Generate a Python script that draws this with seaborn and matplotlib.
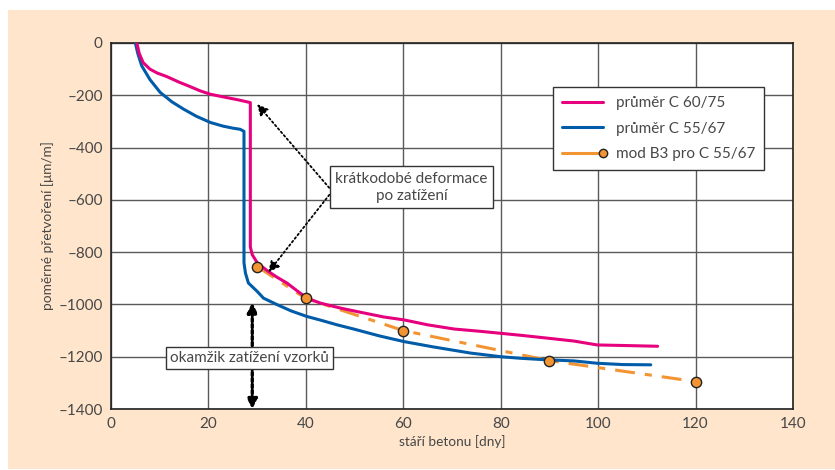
import matplotlib
matplotlib.use("Agg")
import matplotlib.pyplot as plt
from matplotlib.lines import Line2D
from matplotlib.patches import Rectangle
import seaborn as sns
import pandas as pd

c60_days = [5.3, 5.8, 6.6, 8.0, 9.5, 11.4, 14.0, 16.0, 18.3, 20.4, 23.0, 26.0, 28.6,
            28.6, 29.0, 30.0, 32.0, 34.0, 36.1, 38.0, 40.2, 43.0, 47.1, 52.0, 56.0,
            60.1, 65.0, 70.4, 75.9, 84.1, 89.6, 95.0, 99.8, 105.0, 112.2]
c60_strain = [0, -40, -75, -100, -115, -128, -150, -165, -183, -196, -206, -217, -228,
              -780, -810, -840, -870, -895, -918, -945, -976, -995, -1014, -1033, -1048,
              -1059, -1078, -1094, -1103, -1118, -1129, -1140, -1155, -1157, -1160]

c55_days = [5.0, 5.5, 6.3, 8.0, 10.1, 12.5, 14.9, 17.5, 20.4, 23.0, 25.1, 26.5, 27.3,
            27.3, 27.6, 28.2, 30.0, 31.3, 34.0, 37.0, 40.2, 43.0, 46.4, 50.0, 55.0,
            60.1, 66.0, 73.8, 80.0, 84.1, 89.6, 95.0, 99.8, 105.0, 110.8]
c55_strain = [0, -40, -87, -140, -189, -225, -253, -280, -304, -318, -326, -330, -338,
              -841, -880, -918, -950, -976, -1000, -1025, -1046, -1060, -1078, -1095, -1120,
              -1142, -1162, -1186, -1200, -1206, -1212, -1216, -1225, -1230, -1231]

# model B3 for C 55/67
b3_days = [30, 40, 60, 90, 120]
b3_strain = [-855, -977, -1100, -1215, -1295]

x_ticks = [0, 20, 40, 60, 80, 100, 120, 140]
y_ticks = [0, -200, -400, -600, -800, -1000, -1200, -1400]
y_tick_labels = ["0", "–200", "–400", "–600", "–800", "–1000", "–1200", "–1400"]

PINK = "#e6007e"
BLUE = "#005ca9"
ORANGE = "#f39433"
BEIGE = "#fee5cb"
TXT = "#474747"

sns.set_style("white")
plt.rcParams["font.family"] = ["Lato", "DejaVu Sans"]

fig = plt.figure(figsize=(8.35, 4.70), dpi=100, facecolor="white")
fig.patches.append(Rectangle((8 / 835, 1 / 470), 1 - 8 / 835, 459 / 470,
                             transform=fig.transFigure, facecolor=BEIGE,
                             edgecolor="none", zorder=-10))
ax = fig.add_axes([111 / 835, 61 / 470, 682 / 835, 366 / 470])
ax.set_facecolor("white")

df60 = pd.DataFrame({"days": c60_days, "strain": c60_strain})
df55 = pd.DataFrame({"days": c55_days, "strain": c55_strain})
dfb3 = pd.DataFrame({"days": b3_days, "strain": b3_strain})

sns.lineplot(data=dfb3, x="days", y="strain", ax=ax, color=ORANGE, lw=2.2,
             sort=False, estimator=None, zorder=3)
ax.lines[-1].set_dashes((6.5, 3.3, 2.3, 3.3))
sns.lineplot(data=df55, x="days", y="strain", ax=ax, color=BLUE, lw=2.2,
             sort=False, estimator=None, zorder=4)
sns.lineplot(data=df60, x="days", y="strain", ax=ax, color=PINK, lw=2.2,
             sort=False, estimator=None, zorder=5)
sns.scatterplot(data=dfb3, x="days", y="strain", ax=ax, color=ORANGE, s=55,
                edgecolor="#222222", linewidth=1, zorder=6)

ax.set_xlim(0, 140)
ax.set_ylim(-1400, 0)
ax.set_xticks(x_ticks)
ax.set_yticks(y_ticks)
ax.set_yticklabels(y_tick_labels)
ax.grid(True, color="#5a5a5a", lw=1)
ax.set_axisbelow(True)
for s in ax.spines.values():
    s.set_color("#222222")
    s.set_linewidth(1.2)
ax.tick_params(direction="inout", length=6, width=1, color="#222222",
               labelsize=11, labelcolor=TXT, pad=3)
ax.set_xlabel("stáří betonu [dny]", fontsize=9.8, color=TXT, labelpad=3)
ax.set_ylabel("poměrné přetvoření [μm/m]", fontsize=9.8, color=TXT, labelpad=3)

# annotations
box = dict(boxstyle="square,pad=0.35", facecolor="white", edgecolor="#333333", lw=1)
ax.text(61.7, -552, "krátkodobé deformace\npo zatížení", ha="center", va="center",
        fontsize=11, color=TXT, bbox=box, zorder=8, linespacing=1.3)
arrow = dict(arrowstyle="-|>", linestyle=(0, (1, 1.5)), color="black", lw=1.3,
             mutation_scale=16, shrinkA=0, shrinkB=0)
ax.annotate("", xy=(30, -234), xytext=(45.4, -567), arrowprops=arrow, zorder=7)
ax.annotate("", xy=(32.3, -877), xytext=(45.4, -567), arrowprops=arrow, zorder=7)

darrow = dict(arrowstyle="<|-|>", linestyle=(0, (1, 0.8)), color="black", lw=2.4,
              mutation_scale=14, shrinkA=0, shrinkB=0)
ax.annotate("", xy=(29, -1400), xytext=(29, -993), arrowprops=darrow, zorder=7)
ax.text(28.4, -1205, "okamžik zatížení vzorků", ha="center", va="center",
        fontsize=11, color=TXT, bbox=dict(box, boxstyle="square,pad=0.25"), zorder=8)

handles = [
    Line2D([], [], color=PINK, lw=2.2),
    Line2D([], [], color=BLUE, lw=2.2),
    Line2D([], [], color=ORANGE, lw=2.2, marker="o", markersize=6,
           markerfacecolor=ORANGE, markeredgecolor="#222222"),
]
labels = ["průměr C 60/75", "průměr C 55/67", "mod B3 pro C 55/67"]
leg = ax.legend(handles, labels, loc="upper left", bbox_to_anchor=(0.648, 0.88),
                fontsize=11, frameon=True, fancybox=False, edgecolor="#333333",
                framealpha=1, borderpad=0.6, labelspacing=0.75, handlelength=2.7,
                handletextpad=0.8, borderaxespad=0)
leg.get_frame().set_linewidth(1)
for t in leg.get_texts():
    t.set_color(TXT)
ml = leg.get_lines()[2]
ml.set_markevery([len(ml.get_xdata()) - 1])

fig.savefig("out.png", dpi=100, facecolor="white")
